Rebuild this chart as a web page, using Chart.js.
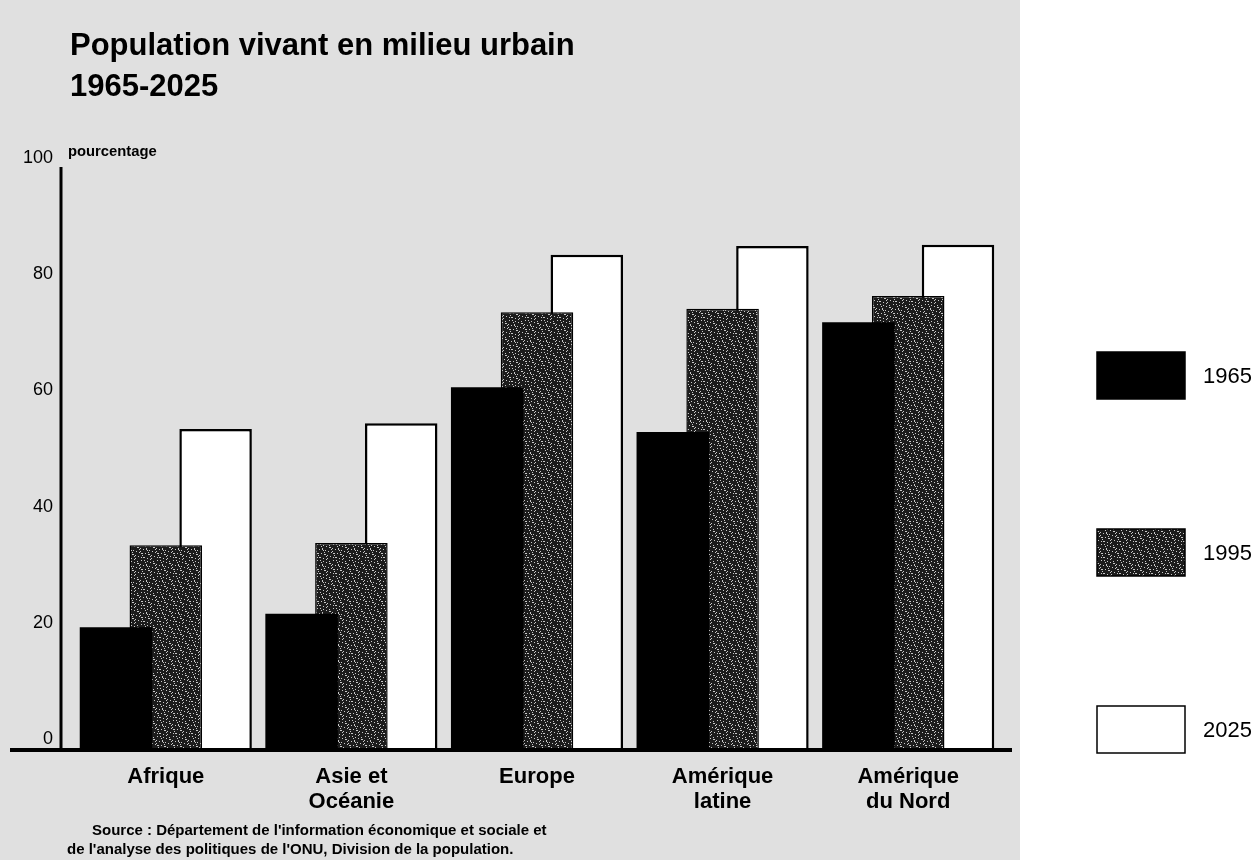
<!DOCTYPE html>
<html>

<head>
  <meta charset="utf-8">
  <title>Population vivant en milieu urbain 1965-2025</title>
  <script src="https://cdn.jsdelivr.net/npm/chart.js"></script>
  <style>
    body { margin: 0; background: #fff; }
    #wrap { position: relative; width: 1259px; height: 860px; }
    .txt {
      position: absolute;
      font-family: "Liberation Sans", Arial, sans-serif;
      font-weight: bold;
      color: #000;
      line-height: 1;
      white-space: nowrap;
    }
  </style>
</head>

<body>
  <div id="wrap">
    <canvas id="myChart" width="1259" height="860"></canvas>
    <div class="txt" style="left:70px;top:29px;font-size:31px">Population vivant en milieu urbain</div>
    <div class="txt" style="left:70px;top:70px;font-size:31px">1965-2025</div>
    <div class="txt" style="left:68px;top:144px;font-size:14.8px">pourcentage</div>
    <div class="txt" style="left:92px;top:822px;font-size:15px">Source : Département de l'information économique et sociale et</div>
    <div class="txt" style="left:67px;top:841px;font-size:15px">de l'analyse des politiques de l'ONU, Division de la population.</div>
  </div>
  <script>
    // urban population share, percent
    const regions = ['Afrique', ['Asie et', 'Océanie'], 'Europe', ['Amérique', 'latine'], ['Amérique', 'du Nord']];
    const years = ['1965', '1995', '2025'];
    const urban1965 = [20.8, 23.1, 62.1, 54.4, 73.3];
    const urban1995 = [34.9, 35.3, 75.0, 75.6, 77.8];
    const urban2025 = [54.9, 55.9, 84.9, 86.4, 86.6];
    const yTicks = [0, 20, 40, 60, 80, 100];

    const FONT = '"Liberation Sans", Arial, sans-serif';
    Chart.defaults.font.family = FONT;
    Chart.defaults.color = '#000';

    // dark speckled fill for the middle series
    function speckle() {
      const c = document.createElement('canvas');
      c.width = 16; c.height = 16;
      const g = c.getContext('2d');
      g.fillStyle = '#1c1c1c';
      g.fillRect(0, 0, 16, 16);
      g.fillStyle = '#c8c8c8';
      for (let y = 0; y < 16; y++) {
        for (let x = 0; x < 16; x++) {
          if ((x * 5 + y * 11) % 13 === 0 || (x * 3 + y * 7) % 17 === 0) g.fillRect(x, y, 1, 1);
        }
      }
      return g.createPattern(c, 'repeat');
    }

    const ctx = document.getElementById('myChart').getContext('2d');

    const panel = {
      id: 'panel',
      beforeDraw(chart) {
        const c = chart.ctx;
        c.save();
        c.fillStyle = '#fff';
        c.fillRect(0, 0, chart.width, chart.height);
        c.fillStyle = '#e0e0e0';
        c.fillRect(0, 0, 1020, chart.height);
        c.restore();
      }
    };

    // heavy baseline and left axis rule
    const axisLines = {
      id: 'axisLines',
      afterDatasetsDraw(chart) {
        const c = chart.ctx;
        const y = chart.scales.y;
        const area = chart.chartArea;
        c.save();
        c.strokeStyle = '#000';
        c.lineWidth = 3;
        c.beginPath();
        c.moveTo(area.left - 12, y.getPixelForValue(100));
        c.lineTo(area.left - 12, y.getPixelForValue(0));
        c.stroke();
        c.lineWidth = 4;
        c.beginPath();
        c.moveTo(10, y.getPixelForValue(0) + 2);
        c.lineTo(1012, y.getPixelForValue(0) + 2);
        c.stroke();
        c.restore();
      }
    };

    const sideLegend = {
      id: 'sideLegend',
      afterDraw(chart) {
        const c = chart.ctx;
        c.save();
        chart.data.datasets.forEach((ds, i) => {
          const top = 352 + i * 177;
          c.fillStyle = ds.backgroundColor;
          c.fillRect(1097, top, 88, 47);
          c.strokeStyle = '#000';
          c.lineWidth = 1.5;
          c.strokeRect(1097, top, 88, 47);
          c.fillStyle = '#000';
          c.font = '22px ' + FONT;
          c.textBaseline = 'middle';
          c.fillText(ds.label, 1203, top + 25);
        });
        c.restore();
      }
    };

    const myChart = new Chart(ctx, {
      type: 'bar',
      data: {
        labels: regions,
        datasets: [{
          label: years[0],
          data: urban1965,
          backgroundColor: '#000',
          borderWidth: 0
        }, {
          label: years[1],
          data: urban1995,
          backgroundColor: speckle(),
          borderColor: '#000',
          borderWidth: 1.5
        }, {
          label: years[2],
          data: urban2025,
          backgroundColor: '#fff',
          borderColor: '#000',
          borderWidth: 2.5
        }]
      },
      options: {
        responsive: false,
        animation: false,
        categoryPercentage: 0.805,
        barPercentage: 1.456,
        layout: { padding: { top: 167, right: 258, bottom: 0, left: 0 } },
        plugins: {
          legend: { display: false },
          tooltip: { enabled: false }
        },
        scales: {
          x: {
            grid: { display: false, drawTicks: false },
            border: { display: false },
            ticks: {
              font: { size: 22, weight: 'bold', lineHeight: 1.15 },
              padding: 16,
              maxRotation: 0,
              autoSkip: false
            },
            afterFit: axis => { axis.height = 112; }
          },
          y: {
            min: 0,
            max: 100,
            grid: { display: false, drawTicks: false },
            border: { display: false },
            afterBuildTicks: axis => { axis.ticks = yTicks.map(v => ({ value: v })); },
            ticks: {
              font: { size: 18 },
              padding: 20,
              labelOffset: -9
            },
            afterFit: axis => { axis.width = 73; }
          }
        }
      },
      plugins: [panel, axisLines, sideLegend]
    });
  </script>
</body>

</html>
